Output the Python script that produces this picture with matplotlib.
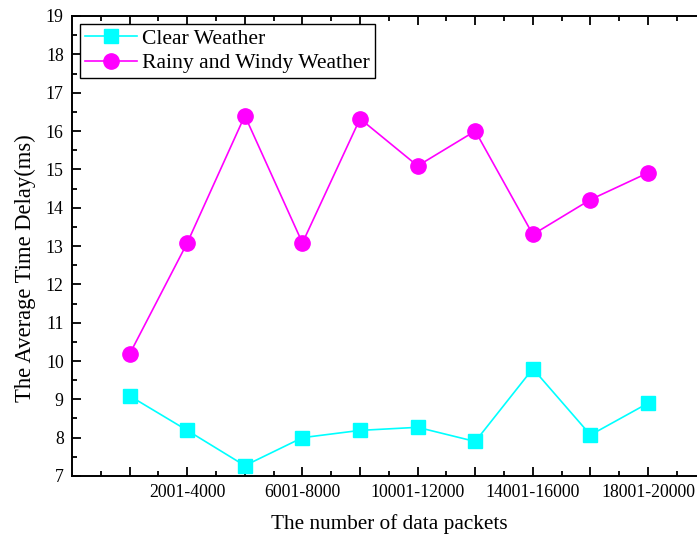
import matplotlib.pyplot as plt
from matplotlib.ticker import MultipleLocator, FixedLocator

plt.rcParams['font.family'] = ['Liberation Serif', 'DejaVu Serif']
plt.rcParams['mathtext.fontset'] = 'stix'

categories = ["1-2000", "2001-4000", "4001-6000", "6001-8000", "8001-10000",
              "10001-12000", "12001-14000", "14001-16000", "16001-18000", "18001-20000"]
clear_weather = [9.09, 8.19, 7.27, 8.0, 8.19, 8.27, 7.9, 9.8, 8.07, 8.9]
rainy_windy = [10.18, 13.08, 16.4, 13.08, 16.32, 15.09, 16.0, 13.3, 14.21, 14.91]

fig = plt.figure(figsize=(6.97, 5.38), dpi=100)
ax = fig.add_axes([72 / 697, 62 / 538, (705.7 - 72) / 697, (476 - 16) / 538])

xs = list(range(len(categories)))
ax.plot(xs, clear_weather, color="#00FFFF", marker="s", markersize=10, linewidth=1.2,
        label="Clear Weather")
ax.plot(xs, rainy_windy, color="#FF00FF", marker="o", markersize=11, linewidth=1.2,
        label="Rainy and Windy Weather")

ax.set_xlim(-1, 10)
ax.set_ylim(7, 19)
ax.xaxis.set_major_locator(FixedLocator(xs))
ax.set_xticklabels([c if i % 2 == 1 else "" for i, c in enumerate(categories)])
ax.xaxis.set_minor_locator(FixedLocator([x + 0.5 for x in range(-1, 10)]))
ax.yaxis.set_major_locator(MultipleLocator(1))
ax.yaxis.set_minor_locator(MultipleLocator(0.5))

ax.tick_params(which="both", direction="in", top=True, right=True, width=1.3,
               labelsize=12.8, colors="black")
ax.tick_params(which="major", length=6.5, pad=6)
ax.tick_params(which="minor", length=3.6)
for s in ax.spines.values():
    s.set_linewidth(1.4)

ax.set_xlabel("The number of data packets", fontsize=15.3, labelpad=9)
ax.set_ylabel("The Average Time Delay(ms)", fontsize=16.3)
ax.yaxis.set_label_coords(-0.057, 0.452)

leg = ax.legend(loc="upper left", bbox_to_anchor=(8 / 633.7, 1 - 8 / 460),
                fontsize=15.6, fancybox=False, edgecolor="black", framealpha=1,
                borderaxespad=0, handlelength=2.4, borderpad=0.22, labelspacing=0.2,
                handletextpad=0.25)
leg.get_frame().set_linewidth(1.0)

fig.savefig("out.png", dpi=100)
